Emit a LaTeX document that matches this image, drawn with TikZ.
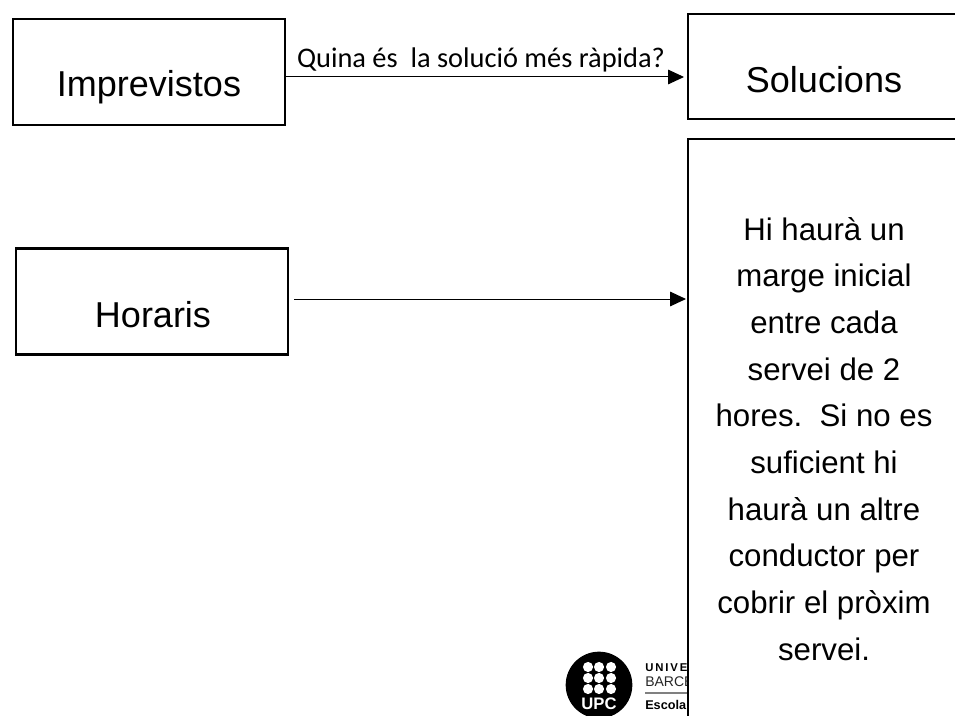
\documentclass[tikz,border=0pt]{standalone}
\usepackage{fontspec}
\setmainfont{Liberation Sans}
\newfontfamily\labelfont{Carlito}
\usetikzlibrary{arrows.meta}
\tikzset{
  caixa/.style={draw=black,line width=1.9pt,fill=white,rectangle,inner sep=0pt},
  textgran/.style={inner sep=0pt,font=\fontsize{27}{27}\selectfont},
  fletxa/.style={line width=0.75pt,-{Triangle[length=12pt,width=11pt]}}
}
\begin{document}
\begin{tikzpicture}[x=0.75pt,y=-0.75pt]
  \useasboundingbox (0,0) rectangle (955,716);
  \clip (0,0) rectangle (955,716);
  % logo
  \node[circle,fill=black,minimum size=50pt,inner sep=0pt] (logo) at (599,685) {};
  \foreach \col in {588,599,611}
    \foreach \fila in {667,678,689}
      \node[circle,fill=white,inner sep=0pt,minimum size=7.6pt] (p\col\fila) at (\col,\fila) {};
  \node[inner sep=0pt,text=white,font=\bfseries\fontsize{12.5}{12.5}\selectfont] (upc) at (599,704) {UPC};
  \node[inner sep=0pt,anchor=base west,font=\bfseries\fontsize{8.5}{8.5}\selectfont] (univ) at (645,671) {U\,N\,I\,V\,E\,R\,S};
  \node[inner sep=0pt,anchor=base west,font=\fontsize{10.5}{10.5}\selectfont,text=black!85] (barc) at (645,686) {BARCELONA};
  \coordinate (ratlla) at (645,693);
  \draw[black!50,line width=1.1pt] (ratlla) -- (720,693);
  \node[inner sep=0pt,anchor=base west,font=\bfseries\fontsize{9.5}{9.5}\selectfont] (escola) at (645,709) {Escola};
  % caixes
  \node[caixa,minimum width=204pt,minimum height=79.5pt] (imprevistos) at (149,72) {};
  \node[caixa,minimum width=234pt,minimum height=78.5pt] (solucions) at (844,66.5) {};
  \node[caixa,minimum width=234pt,minimum height=480pt] (servei) at (844,459) {};
  \node[caixa,minimum width=204pt,minimum height=79.5pt] (horaris) at (152,301.5) {};
  % textos
  \node[textgran] (timprevistos) at (149,87) {Imprevistos};
  \node[textgran] (tsolucions) at (824,80) {Solucions};
  \node[textgran] (thoraris) at (153,315) {Horaris};
  \node[inner sep=0pt,align=center,font=\fontsize{23.4}{35}\selectfont,anchor=north] (tservei) at (824,217) {Hi haurà un\\marge inicial\\entre cada\\servei de 2\\hores.~~Si no es\\suficient hi\\haurà un altre\\conductor per\\cobrir el pròxim\\servei.};
  % fletxes
  \coordinate (imprevistosout) at (imprevistos.east |- 0,77);
  \coordinate (solucionsin) at (684,77);
  \draw[fletxa] (imprevistosout) -- (solucionsin);
  \node[inner sep=0pt,font=\labelfont\fontsize{21.3}{21.3}\selectfont] (pregunta) at (481,60) {Quina és~~la solució més ràpida?};
  \coordinate (horarisout) at (294,299);
  \coordinate (serveiin) at (686,299);
  \draw[fletxa] (horarisout) -- (serveiin);
\end{tikzpicture}
\end{document}
